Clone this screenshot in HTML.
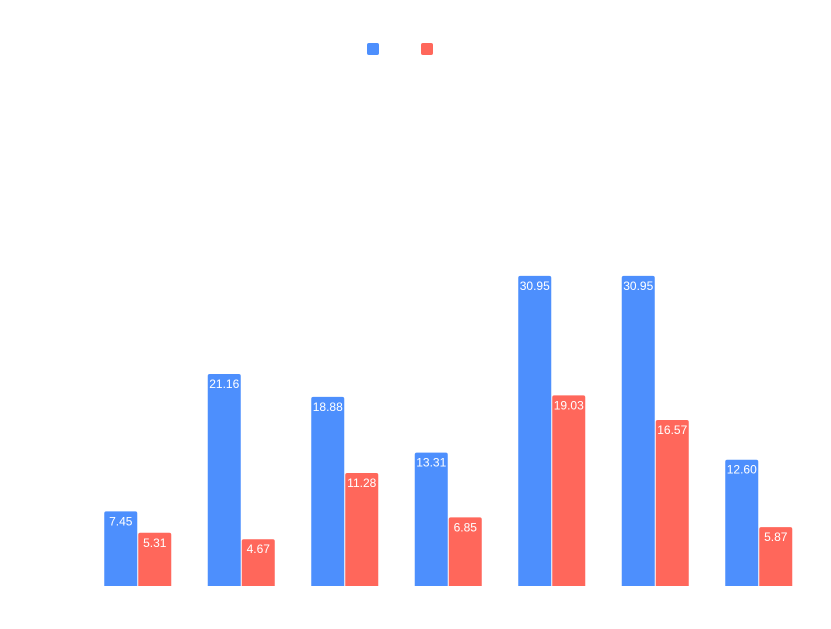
<!DOCTYPE html>
<html>
<head>
<meta charset="utf-8">
<style>
  html,body{margin:0;padding:0;background:#fff;}
  svg{display:block;}
  text{font-family:"Liberation Sans",sans-serif;}
</style>
</head>
<body>
<svg id="chart" width="831" height="629" viewBox="0 0 831 629" xmlns="http://www.w3.org/2000/svg">
  <g>
    <rect x="367" y="43" width="12" height="12" rx="2" fill="#4d8ffd"/>
    <rect x="421" y="43" width="12" height="12" rx="2" fill="#ff675b"/>
  </g>
  <g id="bars"></g>
</svg>
<script>
const series1 = [7.45, 21.16, 18.88, 13.31, 30.95, 30.95, 12.60];
const series2 = [5.31, 4.67, 11.28, 6.85, 19.03, 16.57, 5.87];
const valueLabels1 = series1.map(v => v.toFixed(2));
const valueLabels2 = series2.map(v => v.toFixed(2));

const NS = "http://www.w3.org/2000/svg";
const baseY = 586, pxPerUnit = 10.02;
const plotLeft = 86, bandW = 103.5, barW = 33, gap = 1;
function yScale(v){ return baseY - v * pxPerUnit; }
function xBand(i){ return plotLeft + i * bandW + (bandW - (2*barW + gap)) / 2; }

function topRoundedPath(x, y, w, h, r){
  r = Math.min(r, h/2, w/2);
  return `M${x},${y+h} L${x},${y+r} Q${x},${y} ${x+r},${y} L${x+w-r},${y} Q${x+w},${y} ${x+w},${y+r} L${x+w},${y+h} Z`;
}

const g = document.getElementById('bars');
function drawBar(i, v, label, offset, color, sIdx){
  const x = xBand(i) + offset;
  const y = yScale(v);
  const h = baseY - y;
  const p = document.createElementNS(NS, 'path');
  p.setAttribute('d', topRoundedPath(x, y, barW, h, 2));
  p.setAttribute('fill', color);
  
  
  g.appendChild(p);
  const t = document.createElementNS(NS, 'text');
  t.setAttribute('x', x + barW/2);
  t.setAttribute('y', y + 14);
  t.setAttribute('text-anchor', 'middle');
  t.setAttribute('font-size', '12');
  t.setAttribute('fill', '#ffffff');
  t.textContent = label;
  
  
  g.appendChild(t);
}
for (let i = 0; i < series1.length; i++){
  drawBar(i, series1[i], valueLabels1[i], 0, '#4d8ffd', 1);
  drawBar(i, series2[i], valueLabels2[i], barW + gap, '#ff675b', 2);
}
</script>
</body>
</html>
